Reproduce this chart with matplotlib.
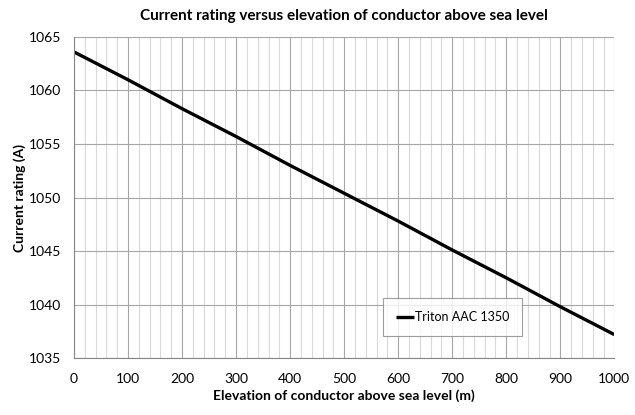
import matplotlib
matplotlib.use("Agg")
import matplotlib.pyplot as plt
from matplotlib.ticker import MultipleLocator

elevation = [0, 100, 200, 300, 400, 500, 600, 700, 800, 900, 1000]
rating = [1063.6, 1061.0, 1058.3, 1055.7, 1053.0, 1050.4, 1047.8, 1045.1, 1042.5, 1039.8, 1037.2]
series_name = "Triton AAC 1350"

plt.rcParams['font.family'] = ['Lato', 'DejaVu Sans']

fig = plt.figure(figsize=(6.35, 4.15), dpi=100)
ax = fig.add_axes([0.1165, 0.137, 0.851, 0.774])

ax.plot(elevation, rating, color='black', lw=2.4, label=series_name, solid_capstyle='butt')
ax.set_xlim(0, 1000)
ax.set_ylim(1035, 1065)
ax.xaxis.set_major_locator(MultipleLocator(100))
ax.xaxis.set_minor_locator(MultipleLocator(20))
ax.yaxis.set_major_locator(MultipleLocator(5))
ax.grid(which='major', color='#a6a6a6', lw=0.8)
ax.grid(which='minor', axis='x', color='#d9d9d9', lw=0.8)
ax.set_axisbelow(True)
for s in ['top', 'right']:
    ax.spines[s].set_visible(False)
for s in ['left', 'bottom']:
    ax.spines[s].set_color('#868686')
    ax.spines[s].set_linewidth(0.8)
ax.tick_params(which='both', length=0, labelsize=10)
ax.tick_params(axis='y', pad=9)
ax.tick_params(axis='x', pad=11)

ax.set_title("Current rating versus elevation of conductor above sea level",
             fontsize=11, fontweight='bold', pad=12)
ax.set_xlabel("Elevation of conductor above sea level (m)", fontsize=10, fontweight='bold', labelpad=3)
ax.set_ylabel("Current rating (A)", fontsize=10, fontweight='bold', labelpad=2)

leg = ax.legend(loc='lower left', bbox_to_anchor=(0.572, 0.068), fontsize=9,
                frameon=True, fancybox=False, edgecolor='#868686', handlelength=1.45,
                handletextpad=0.05, borderpad=1.05, borderaxespad=0)
leg.get_frame().set_linewidth(0.8)

fig.savefig("out.png", dpi=100)
